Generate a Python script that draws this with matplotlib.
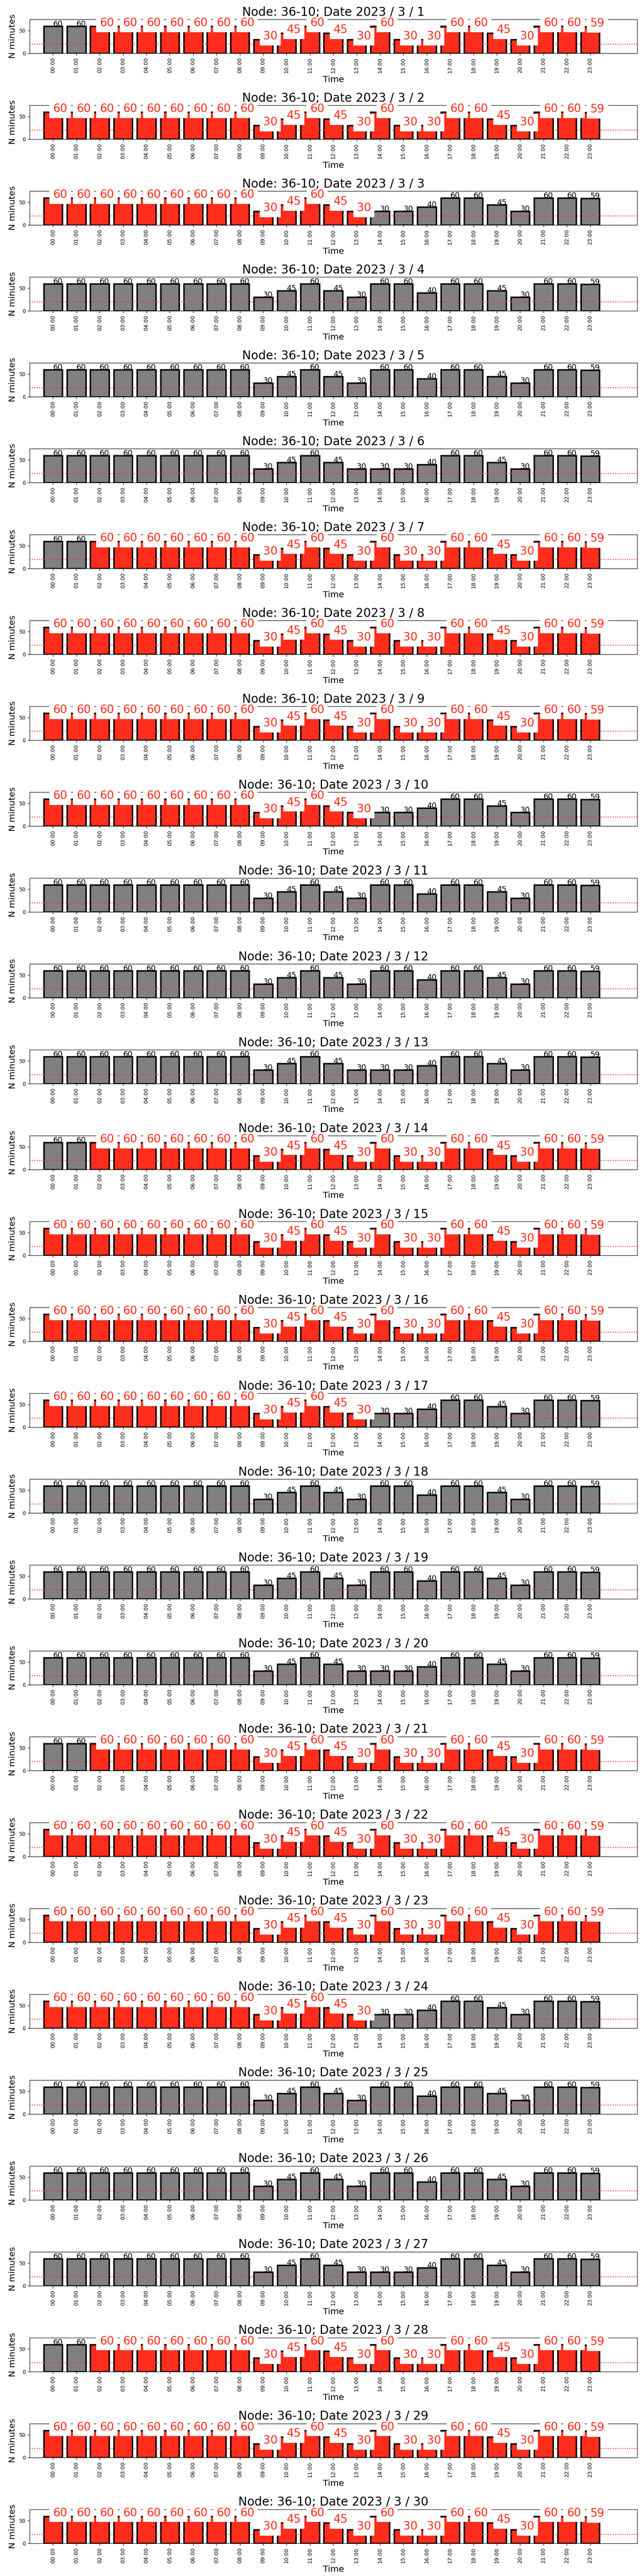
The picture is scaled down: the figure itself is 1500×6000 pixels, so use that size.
import matplotlib
matplotlib.use("Agg")
import matplotlib.pyplot as plt

NODE = "36-10"
YEAR = 2023
MONTH = 3
DAYS = list(range(1, 31))

HOURS = ["00:00", "01:00", "02:00", "03:00", "04:00", "05:00", "06:00", "07:00",
         "08:00", "09:00", "10:00", "11:00", "12:00", "13:00", "14:00", "15:00",
         "16:00", "17:00", "18:00", "19:00", "20:00", "21:00", "22:00", "23:00"]

# minutos por hora (se repiten segun el dia de la semana)
MIN_TUE_THU = [60, 60, 60, 60, 60, 60, 60, 60, 60, 30, 45, 60, 45, 30, 60, 30, 30, 60, 60, 45, 30, 60, 60, 59]
MIN_FRI_MON = [60, 60, 60, 60, 60, 60, 60, 60, 60, 30, 45, 60, 45, 30, 30, 30, 40, 60, 60, 45, 30, 60, 60, 59]
MIN_WEEKEND = [60, 60, 60, 60, 60, 60, 60, 60, 60, 30, 45, 60, 45, 30, 60, 60, 40, 60, 60, 45, 30, 60, 60, 59]

PROFILES = {"tt": MIN_TUE_THU, "fm": MIN_FRI_MON, "we": MIN_WEEKEND}

# perfil de cada dia 1..30
DAY_PROFILE = ["tt", "tt", "fm", "we", "we", "fm",
               "tt", "tt", "tt", "fm", "we", "we", "fm",
               "tt", "tt", "tt", "fm", "we", "we", "fm",
               "tt", "tt", "tt", "fm", "we", "we", "fm",
               "tt", "tt", "tt"]

# horas marcadas en rojo (primera, ultima); -1 = ninguna
RED_FIRST = [2, 0, 0, -1, -1, -1,
             2, 0, 0, 0, -1, -1, -1,
             2, 0, 0, 0, -1, -1, -1,
             2, 0, 0, 0, -1, -1, -1,
             2, 0, 0]
RED_LAST = [23, 23, 13, -1, -1, -1,
            23, 23, 23, 13, -1, -1, -1,
            23, 23, 23, 13, -1, -1, -1,
            23, 23, 23, 13, -1, -1, -1,
            23, 23, 23]

THRESHOLD = 20
RED = "#ff2d1c"
GREY = "grey"

fig, axes = plt.subplots(len(DAYS), 1, figsize=(15, 60), dpi=100)
fig.subplots_adjust(left=0.046, right=0.989, top=0.9925, bottom=0.0127, hspace=1.53)

for ax, day, prof, r0, r1 in zip(axes, DAYS, DAY_PROFILE, RED_FIRST, RED_LAST):
    vals = PROFILES[prof]
    x = list(range(len(HOURS)))
    flagged = [r0 <= h <= r1 for h in x]
    colors = [RED if f else GREY for f in flagged]

    ax.bar(x, vals, width=0.8, color=colors, edgecolor="black", linewidth=2.5)
    ax.axhline(THRESHOLD, color=RED, linestyle=":", linewidth=1.5)

    for h, v, f in zip(x, vals, flagged):
        if f:
            ax.text(h, v, str(v), color=RED, fontsize=19,
                    bbox=dict(boxstyle="square,pad=0.3", facecolor="white", edgecolor="none"))
        else:
            ax.text(h, v, str(v), color="black", fontsize=13)

    ax.set_xlim(-1, 25)
    ax.set_ylim(0, 75)
    ax.set_xticks(x)
    ax.set_xticklabels(HOURS, rotation=90, fontsize=9)
    ax.set_yticks([0, 50])
    ax.tick_params(axis="y", labelsize=8.5)
    ax.set_title(f"Node: {NODE}; Date {YEAR} / {MONTH} / {day}", fontsize=20)
    ax.set_xlabel("Time", fontsize=14.5)
    ax.set_ylabel("N minutes", fontsize=14.5)

fig.savefig("out.png", dpi=100)
plt.close(fig)
